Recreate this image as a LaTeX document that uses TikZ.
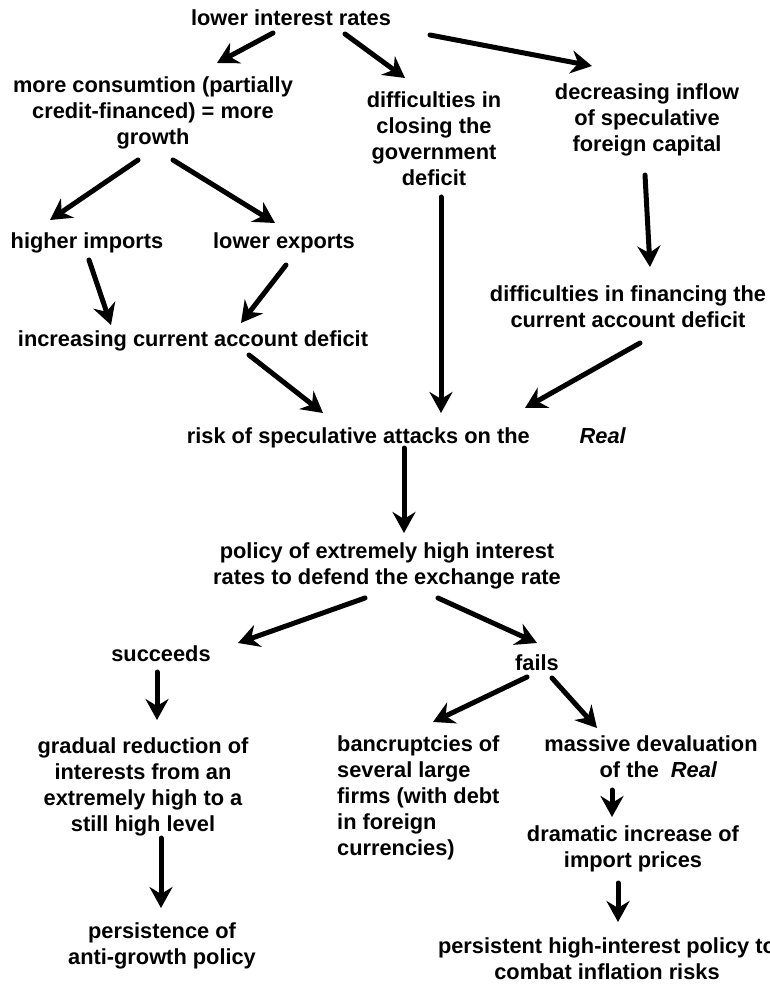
\documentclass[tikz,border=0pt]{standalone}
\usepackage{fontspec}
\setmainfont{Liberation Sans}[Ligatures=NoCommon]
\usetikzlibrary{arrows.meta}
\begin{document}
\begin{tikzpicture}[x=1pt,y=-1pt,
  lbl/.style={font=\fontsize{21.8}{26}\selectfont\bfseries, align=center, inner sep=0pt, anchor=north},
  lbll/.style={lbl, align=left, anchor=north west},
  arr/.style={line width=5pt, line cap=round, -{Stealth[length=21pt,width=23pt,inset=7pt]}}]
\useasboundingbox (0,0) rectangle (769,984);
% nodes
\node[lbl] (top) at (291,7.6) {\strut lower interest rates};
\node[lbl] (cons) at (153,74.6) {\strut more consumtion (partially\\\strut credit-financed) = more\\\strut growth};
\node[lbl] (gov) at (434,89.6) {\strut difficulties in\\\strut closing the\\\strut government\\\strut deficit};
\node[lbl] (inflow) at (647,81.6) {\strut decreasing inflow\\\strut of speculative\\\strut foreign capital};
\node[lbl] (imp) at (87,229.6) {\strut higher imports};
\node[lbl] (exp) at (284,229.6) {\strut lower exports};
\node[lbl] (cad) at (193,327.6) {\strut increasing current account deficit};
\node[lbl] (fin) at (628,282.6) {\strut difficulties in financing the\\\strut current account deficit};
\node[lbl] (risk) at (406.5,424.6) {\strut risk of speculative attacks on the\hspace{50pt}\textit{Real}};
\node[lbl] (policy) at (387,539.6) {\strut policy of extremely high interest\\\strut rates to defend the exchange rate};
\node[lbl] (succ) at (161,642.6) {\strut succeeds};
\node[lbl] (fails) at (537,651.6) {\strut fails};
\node[lbl] (grad) at (143,734.6) {\strut gradual reduction of\\\strut interests from an\\\strut extremely high to a\\\strut still high level};
\node[lbl] (pers) at (162,919.6) {\strut persistence of\\\strut anti-growth policy};
\node[lbll] (bank) at (337,732.6) {\strut bancruptcies of\\\strut several large\\\strut firms (with debt\\\strut in foreign\\\strut currencies)};
\node[lbl] (mass) at (651,732.6) {\strut massive devaluation\\\strut of the\hspace{12pt}\textit{Real}\hspace*{-15pt}};
\node[lbl] (dram) at (633,822.6) {\strut dramatic increase of\\\strut import prices};
\node[lbl] (persi) at (607,934.6) {\strut persistent high-interest policy to\\\strut combat inflation risks};
% connector end points
\coordinate (top-a) at (273,33);   \coordinate (cons-in) at (217,63);
\coordinate (top-b) at (345,34);   \coordinate (gov-in) at (405,78);
\coordinate (top-c) at (430,35);   \coordinate (inflow-in) at (592,66);
\coordinate (cons-a) at (138,160); \coordinate (imp-in) at (50,220);
\coordinate (cons-b) at (173,160); \coordinate (exp-in) at (275,223);
\coordinate (imp-a) at (89,260);   \coordinate (cad-in1) at (111,325);
\coordinate (exp-a) at (286,265);  \coordinate (cad-in2) at (241,323);
\coordinate (cad-a) at (249,355);  \coordinate (risk-in1) at (323,413);
\coordinate (gov-a) at (441,197);  \coordinate (risk-in2) at (441,413);
\coordinate (inflow-a) at (645,175); \coordinate (fin-in) at (650,267);
\coordinate (fin-a) at (640,343);  \coordinate (risk-in3) at (525,408);
\coordinate (risk-a) at (404,448); \coordinate (policy-in) at (404,533);
\coordinate (policy-a) at (365,598); \coordinate (succ-in) at (238,643);
\coordinate (policy-b) at (438,598); \coordinate (fails-in) at (537,643);
\coordinate (succ-a) at (157,672); \coordinate (grad-in) at (157,720);
\coordinate (grad-a) at (161,838); \coordinate (pers-in) at (161,908);
\coordinate (fails-a) at (527,677); \coordinate (bank-in) at (433,722);
\coordinate (fails-b) at (552,678); \coordinate (mass-in) at (597,728);
\coordinate (mass-a) at (612,790); \coordinate (dram-in) at (612,817);
\coordinate (dram-a) at (618,883); \coordinate (persi-in) at (618,922);
% connectors
\draw[arr] (top-a) -- (cons-in);
\draw[arr] (top-b) -- (gov-in);
\draw[arr] (top-c) -- (inflow-in);
\draw[arr] (cons-a) -- (imp-in);
\draw[arr] (cons-b) -- (exp-in);
\draw[arr] (imp-a) -- (cad-in1);
\draw[arr] (exp-a) -- (cad-in2);
\draw[arr] (cad-a) -- (risk-in1);
\draw[arr] (gov-a) -- (risk-in2);
\draw[arr] (inflow-a) -- (fin-in);
\draw[arr] (fin-a) -- (risk-in3);
\draw[arr] (risk-a) -- (policy-in);
\draw[arr] (policy-a) -- (succ-in);
\draw[arr] (policy-b) -- (fails-in);
\draw[arr] (succ-a) -- (grad-in);
\draw[arr] (grad-a) -- (pers-in);
\draw[arr] (fails-a) -- (bank-in);
\draw[arr] (fails-b) -- (mass-in);
\draw[arr] (mass-a) -- (dram-in);
\draw[arr] (dram-a) -- (persi-in);
\end{tikzpicture}
\end{document}
